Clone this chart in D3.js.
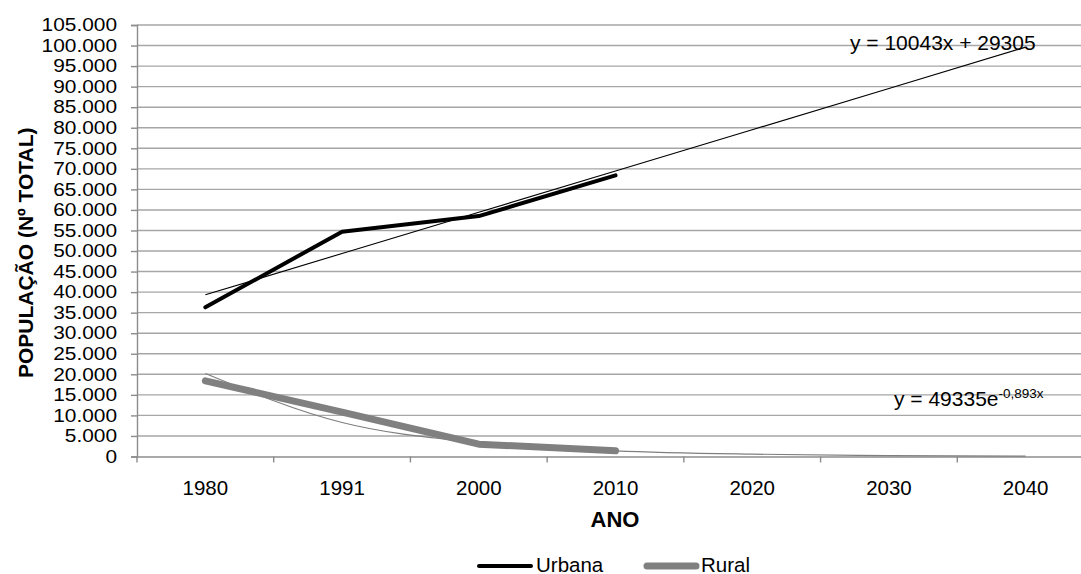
<!DOCTYPE html>
<html>
<head>
<meta charset="utf-8">
<script src="https://cdn.jsdelivr.net/npm/d3@7/dist/d3.min.js"></script>
<style>
  html, body { margin: 0; padding: 0; background: #fff; overflow: hidden; }
  svg { display: block; font-family: "Liberation Sans", Arial, sans-serif; }
</style>
</head>
<body>
<svg id="chart" width="1081" height="574"></svg>
<script>
// ---- data ----
const categories = ["1980", "1991", "2000", "2010", "2020", "2030", "2040"];
const urbana = [36300, 54700, 58500, 68400];
const rural = [18400, 10800, 3000, 1400];
const trendUrbana = [39350, 49390, 59430, 69480, 79520, 89560, 99610];
const trendRural = [20200, 8270, 3390, 1390, 570, 230, 95];
const yTicks = [0, 5000, 10000, 15000, 20000, 25000, 30000, 35000, 40000, 45000, 50000,
  55000, 60000, 65000, 70000, 75000, 80000, 85000, 90000, 95000, 100000, 105000];
const seriesNames = ["Urbana", "Rural"];
const eqUrbana = "y = 10043x + 29305";
const eqRuralBase = "y = 49335e";
const eqRuralExp = "-0,893x";

// ---- layout ----
const svg = d3.select("#chart");
const pLeft = 137, pRight = 1094, pTop = 25, pBottom = 456.5;

const x = d3.scaleBand().domain(categories).range([pLeft, pRight]).paddingInner(0).paddingOuter(0);
const xc = c => x(c) + x.bandwidth() / 2;
const y = d3.scaleLinear().domain([0, 105000]).range([pBottom, pTop]);
const fmt = v => v === 0 ? "0" : d3.format(",")(v).replace(/,/g, ".");

// gridlines
svg.append("g")
  .selectAll("line").data(yTicks.filter(v => v > 0)).join("line")
  .attr("x1", pLeft).attr("x2", pRight)
  .attr("y1", d => y(d)).attr("y2", d => y(d))
  .attr("stroke", "#a6a6a6").attr("stroke-width", 1.4);

// y axis
const yAxis = d3.axisLeft(y).tickValues(yTicks).tickFormat(fmt).tickSize(6).tickPadding(14);
const gy = svg.append("g").attr("transform", `translate(${pLeft},0)`).call(yAxis);
gy.select(".domain").attr("stroke", "#8c8c8c").attr("stroke-width", 1.4);
gy.selectAll(".tick line").attr("stroke", "#8c8c8c").attr("stroke-width", 1.4);
const sx = 1.16;
gy.selectAll(".tick text").attr("font-size", "18px").attr("fill", "#000")
  .attr("font-family", "'Liberation Sans', Arial, sans-serif")
  .attr("x", -20 / sx)
  .attr("transform", `scale(${sx},1)`);

// x axis
const xAxis = d3.axisBottom(x).tickSize(0).tickPadding(24);
const gx = svg.append("g").attr("transform", `translate(0,${pBottom})`).call(xAxis);
gx.select(".domain").attr("stroke", "#8c8c8c").attr("stroke-width", 1.4);
gx.selectAll(".tick text").attr("font-size", "20.5px").attr("fill", "#000")
  .attr("font-family", "'Liberation Sans', Arial, sans-serif");
// tick marks between categories
svg.append("g").selectAll("line").data(categories).join("line")
  .attr("x1", d => x(d)).attr("x2", d => x(d))
  .attr("y1", pBottom).attr("y2", pBottom + 6)
  .attr("stroke", "#8c8c8c").attr("stroke-width", 1.4);

// trend lines
const idx = categories.map((c, i) => i);
svg.append("path")
  .attr("d", d3.line().x(i => xc(categories[i])).y(i => y(trendRural[i])).curve(d3.curveMonotoneX)(idx))
  .attr("fill", "none").attr("stroke", "#7f7f7f").attr("stroke-width", 1.2);

// data lines
svg.append("path")
  .attr("d", d3.line().x((d, i) => xc(categories[i])).y(d => y(d))(rural))
  .attr("fill", "none").attr("stroke", "#808080").attr("stroke-width", 7)
  .attr("stroke-linecap", "round").attr("stroke-linejoin", "round");
svg.append("path")
  .attr("d", d3.line().x((d, i) => xc(categories[i])).y(d => y(d))(urbana))
  .attr("fill", "none").attr("stroke", "#000").attr("stroke-width", 4)
  .attr("stroke-linecap", "round").attr("stroke-linejoin", "round");

svg.append("path")
  .attr("d", d3.line().x(i => xc(categories[i])).y(i => y(trendUrbana[i]))(idx))
  .attr("fill", "none").attr("stroke", "#000").attr("stroke-width", 1.2);

// equations
svg.append("text").attr("x", 850).attr("y", 50).attr("font-size", "21px").attr("fill", "#000")
  .text(eqUrbana);
const eq2 = svg.append("text").attr("x", 894).attr("y", 406).attr("font-size", "21px").attr("fill", "#000");
eq2.append("tspan").text(eqRuralBase);
eq2.append("tspan").attr("font-size", "13.5px").attr("dy", -8).text(eqRuralExp);

// axis titles
svg.append("text")
  .attr("transform", `translate(33,${(pTop + pBottom) / 2 + 12}) rotate(-90)`)
  .attr("text-anchor", "middle").attr("font-size", "21px").attr("font-weight", "bold").attr("fill", "#000")
  .text("POPULAÇÃO (Nº TOTAL)");
svg.append("text")
  .attr("x", 615).attr("y", 527).attr("text-anchor", "middle")
  .attr("font-size", "22px").attr("font-weight", "bold").attr("fill", "#000")
  .text("ANO");

// legend
const legend = [
  { name: seriesNames[0], color: "#000", w: 4, x1: 479, x2: 531, tx: 536 },
  { name: seriesNames[1], color: "#808080", w: 7, x1: 647, x2: 696, tx: 701 }
];
const lg = svg.append("g");
legend.forEach(l => {
  lg.append("line").attr("x1", l.x1).attr("x2", l.x2).attr("y1", 566).attr("y2", 566)
    .attr("stroke", l.color).attr("stroke-width", l.w).attr("stroke-linecap", "round");
  lg.append("text").attr("x", l.tx).attr("y", 571.5).attr("font-size", "20.5px").attr("fill", "#000")
    .text(l.name);
});
</script>
</body>
</html>
